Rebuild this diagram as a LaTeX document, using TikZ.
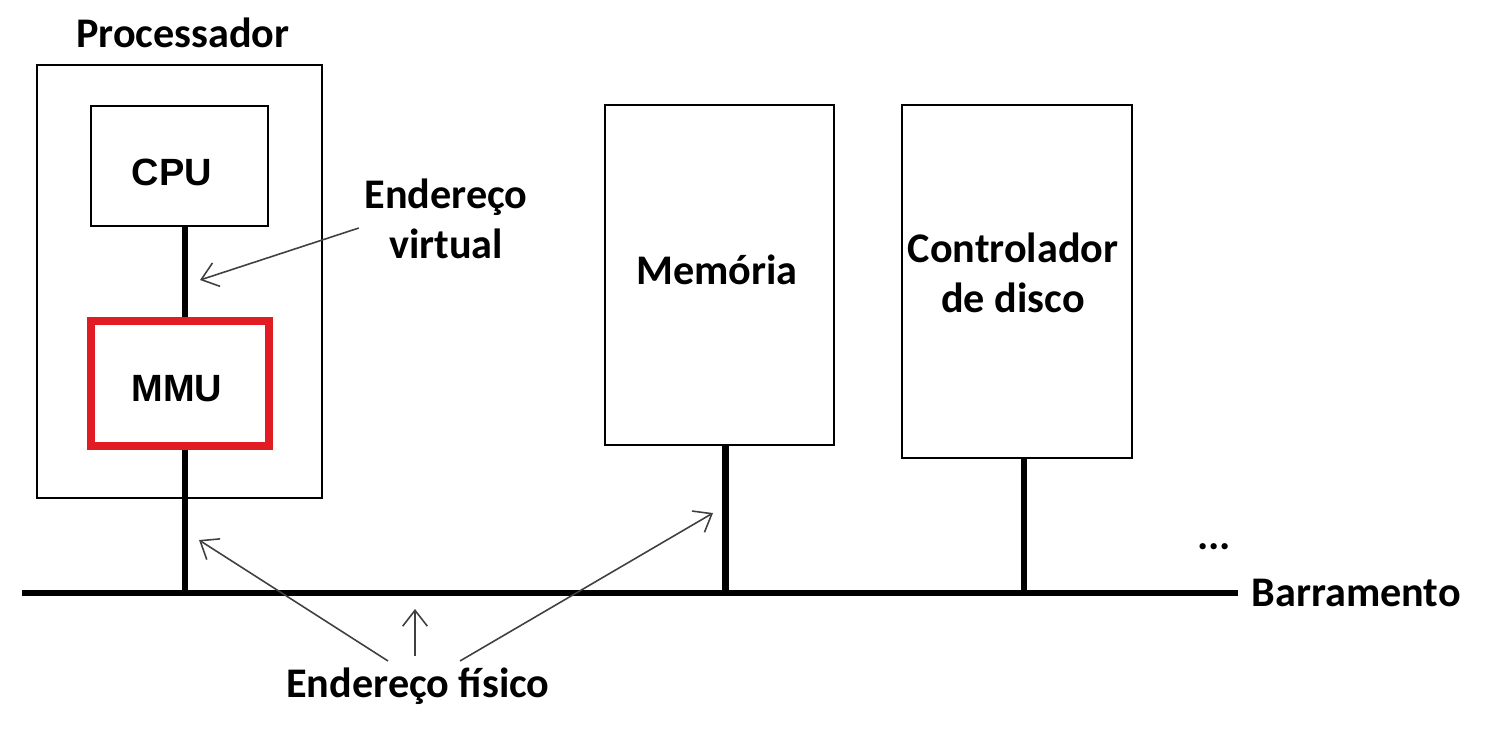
\documentclass[tikz,border=0pt]{standalone}
\usepackage{fontspec}
\setmainfont{Carlito}
\newfontfamily\arialfont{Liberation Sans}
\usetikzlibrary{arrows.meta,positioning}
\definecolor{mmured}{RGB}{226,28,36}
\definecolor{ptrgray}{gray}{0.25}
\newcommand\lblfont{\fontsize{12}{14.2}\selectfont\bfseries}
\newcommand\unitfont{\arialfont\fontsize{10.8}{12}\selectfont\bfseries}

\begin{document}
\begin{tikzpicture}[x=0.01cm,y=-0.01cm,
  box/.style={draw,line width=0.6pt,inner sep=0pt},
  link/.style={line width=1.9pt},
  ptr/.style={draw=ptrgray,line width=0.45pt,-{Straight Barb[length=4.5pt,width=7pt]}},
  lbl/.style={font=\lblfont,align=center,inner sep=0pt}]
  \useasboundingbox (0,0) rectangle (1485,735);
  % processor with cpu and mmu
  \node[box,minimum width=2.85cm,minimum height=4.33cm] (proc) at (179.5,281.5) {};
  \node[lbl] (proclbl) at (183,33) {Processador};
  \node[box,minimum width=1.77cm,minimum height=1.20cm] (cpu) at (179.5,166) {};
  \node[font=\unitfont,inner sep=0pt] (cputxt) at (172,172) {CPU};
  \node[draw=mmured,line width=2.2pt,minimum width=1.78cm,minimum height=1.25cm,
        inner sep=0pt] (mmu) at (180,383.5) {};
  \node[font=\unitfont,inner sep=0pt] (mmutxt) at (177,389) {MMU};
  % memory and disk controller
  \node[box,minimum width=2.29cm,minimum height=3.40cm] (mem) at (719.5,275) {};
  \node[lbl] (memtxt) at (717,270) {Memória};
  \node[box,minimum width=2.30cm,minimum height=3.53cm] (ctrl) at (1017,281.5) {};
  \node[lbl] (ctrltxt) at (1013,273) {Controlador\\de disco};
  % bus and taps
  \coordinate (busL) at (22,593);
  \coordinate (busR) at (1238,593);
  \coordinate (tapP) at (185,593);
  \coordinate (tapM) at (725.5,593);
  \coordinate (tapC) at (1024,593);
  \draw[link] (busL) -- (busR);
  \draw[link] (cpu.south -| tapP) -- (mmu.north -| tapP);
  \draw[link] (mmu.south -| tapP) -- (tapP);
  \draw[link] (mem.south -| tapM) -- (tapM);
  \draw[link] (ctrl.south -| tapC) -- (tapC);
  \node[lbl,right=0.13cm of busR] (buslbl) {Barramento};
  \node[lbl] (more) at (1214,547) {...};
  % address labels
  \node[lbl] (virt) at (446,219) {Endereço\\virtual};
  \node[lbl] (phys) at (418,686) {Endereço físico};
  \coordinate (virtpt) at (200,280);
  \coordinate (mmupt) at (199,540);
  \coordinate (buspt) at (415,609);
  \coordinate (mempt) at (713,513);
  \draw[ptr] ([xshift=-0.05cm,yshift=-0.09cm]virt.west) -- (virtpt);
  \draw[ptr] ([xshift=-0.30cm,yshift=0.06cm]phys.north) -- (mmupt);
  \draw[ptr] ([xshift=-0.03cm,yshift=0.11cm]phys.north) -- (buspt);
  \draw[ptr] ([xshift=0.42cm,yshift=0.06cm]phys.north) -- (mempt);
\end{tikzpicture}
\end{document}
